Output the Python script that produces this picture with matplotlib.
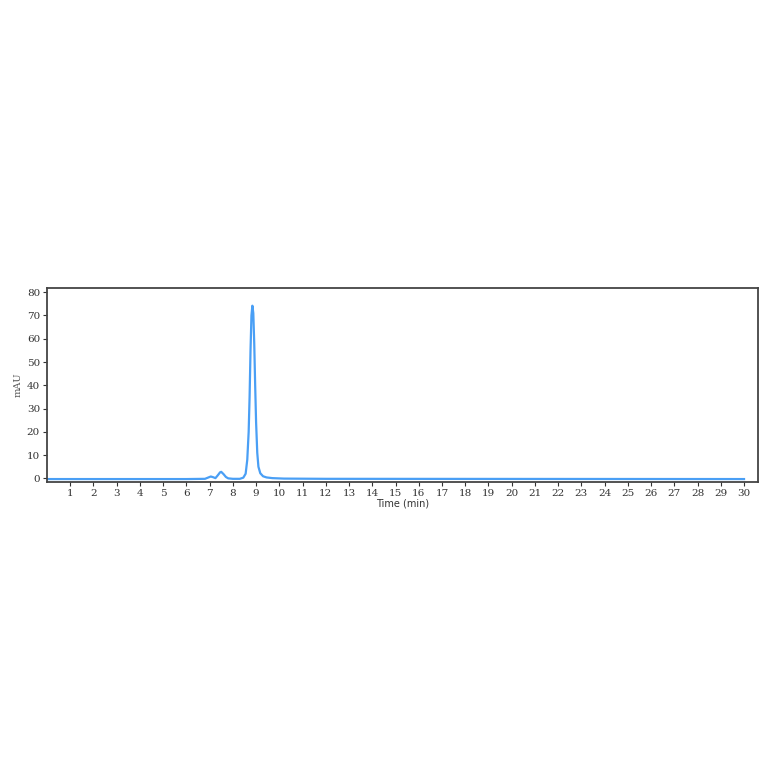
import matplotlib
matplotlib.use("Agg")
import matplotlib.pyplot as plt

# chromatogram trace
time_min = [0.0, 6.0, 6.8, 6.95, 7.05, 7.15, 7.25, 7.35, 7.45, 7.5, 7.6, 7.7, 7.8,
            8.0, 8.3, 8.45, 8.55, 8.62, 8.68, 8.72, 8.76, 8.80, 8.84, 8.88, 8.92,
            8.96, 9.0, 9.05, 9.1, 9.18, 9.3, 9.45, 9.7, 10.2, 12.0, 30.0]
signal_mau = [-0.3, -0.3, -0.2, 0.4, 0.8, 0.5, 0.1, 1.3, 2.6, 2.8, 1.8, 0.6, 0.0,
              -0.2, -0.2, 0.3, 2.0, 8.0, 20.0, 35.0, 55.0, 70.0, 74.2, 71.0, 58.0,
              40.0, 24.0, 11.0, 5.0, 2.2, 0.9, 0.4, 0.1, -0.1, -0.2, -0.3]
xticks = list(range(1, 31))
yticks = [0, 10, 20, 30, 40, 50, 60, 70, 80]

fig = plt.figure(figsize=(7.64, 7.64), dpi=100)
ax = fig.add_axes([0.0615, 0.369, 0.9306, 0.254])
ax.plot(time_min, signal_mau, color='#4a9ff5', lw=1.6)

ax.set_xlim(0, 30.6)
ax.set_ylim(-1.6, 81.8)
ax.set_xticks(xticks)
ax.set_yticks(yticks)
for lab in ax.get_xticklabels() + ax.get_yticklabels():
    lab.set_family('DejaVu Serif')
    lab.set_fontsize(7.5)
    lab.set_color('#333333')
ax.tick_params(length=3, width=0.8, pad=2, colors='#333333')
for sp in ax.spines.values():
    sp.set_linewidth(1.3)
    sp.set_color('#444444')

ax.set_xlabel('Time (min)', fontsize=7, labelpad=0, color='#333333')
ax.set_ylabel('mAU', fontsize=7, family='DejaVu Serif', labelpad=3, color='#555555')

fig.savefig('out.png', dpi=100)
